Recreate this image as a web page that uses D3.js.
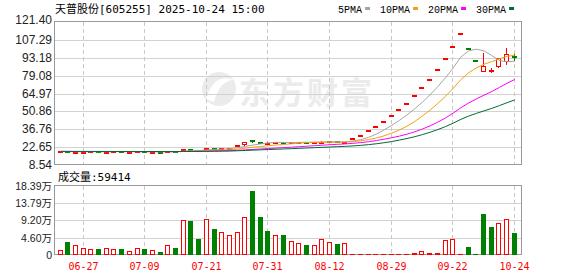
<!DOCTYPE html>
<html>
<head>
<meta charset="utf-8">
<script src="https://cdn.jsdelivr.net/npm/d3@7"></script>
<style>
  body { margin: 0; background: #fff; }
  svg { display: block; }
</style>
</head>
<body>
<div id="chart"></div>
<script>
// 天普股份 daily K line, 60 bars, prices in yuan, volume in 万手
const title = '天普股份[605255] 2025-10-24 15:00';

const opens = [19.10, 19.30, 18.85, 18.95, 19.05, 19.25, 19.00, 19.10, 19.25, 19.00,
  19.05, 19.20, 18.95, 19.05, 18.90, 19.20, 19.30, 20.90, 20.40, 20.40,
  21.80, 21.20, 21.60, 22.60, 24.00, 27.90, 26.50, 25.60, 25.90, 26.50,
  26.00, 26.40, 26.90, 26.40, 26.60, 26.90, 27.10, 26.70, 29.59, 32.55,
  35.81, 39.39, 43.33, 47.66, 52.43, 57.67, 63.44, 69.30, 76.76, 84.44,
  92.50, 101.80, 112.39, 101.15, 91.04, 82.20, 83.50, 85.60, 89.60, 94.50];
const highs = [19.40, 19.35, 19.10, 19.20, 19.30, 19.30, 19.20, 19.30, 19.30, 19.15,
  19.25, 19.25, 19.10, 19.10, 19.25, 19.25, 20.90, 21.20, 20.70, 21.90,
  22.10, 21.80, 22.30, 24.31, 26.74, 28.40, 26.90, 26.40, 26.60, 26.70,
  26.70, 26.90, 27.00, 26.80, 27.10, 27.30, 27.20, 27.00, 29.59, 32.55,
  35.81, 39.39, 43.33, 47.66, 52.43, 57.67, 63.44, 69.78, 76.76, 84.44,
  92.88, 102.17, 112.39, 101.15, 91.04, 96.70, 85.00, 92.90, 100.60, 95.90];
const lows = [19.00, 18.85, 18.80, 18.90, 19.00, 19.00, 18.95, 19.05, 19.00, 18.95,
  19.00, 18.95, 18.90, 18.90, 18.85, 18.95, 19.20, 20.20, 20.00, 20.30,
  21.20, 21.00, 21.50, 22.40, 23.80, 25.90, 26.00, 25.40, 25.70, 25.90,
  25.90, 26.20, 26.40, 26.30, 26.50, 26.80, 26.70, 26.50, 29.59, 32.55,
  35.81, 39.39, 43.33, 47.66, 52.43, 57.67, 63.44, 68.50, 76.76, 84.44,
  91.80, 101.00, 112.39, 101.15, 91.04, 82.00, 81.30, 85.40, 87.30, 90.90];
const closes = [19.30, 18.90, 19.00, 19.10, 19.25, 19.05, 19.15, 19.25, 19.05, 19.10,
  19.20, 19.00, 19.05, 18.95, 19.20, 19.00, 20.90, 20.40, 20.20, 21.70,
  21.40, 21.60, 22.10, 24.31, 26.74, 26.60, 26.30, 26.00, 26.40, 26.10,
  26.50, 26.80, 26.50, 26.70, 27.00, 27.10, 26.80, 26.90, 29.59, 32.55,
  35.81, 39.39, 43.33, 47.66, 52.43, 57.67, 63.44, 69.78, 76.76, 84.44,
  92.88, 102.17, 112.39, 101.15, 91.04, 86.40, 83.90, 92.70, 95.90, 93.20];
const volumes = [1.33, 3.46, 2.58, 1.78, 1.50, 1.60, 1.78, 1.50, 1.60, 0.98,
  1.78, 1.60, 1.24, 0.80, 2.58, 1.87, 9.24, 9.06, 4.26, 9.50,
  6.93, 6.04, 5.24, 6.04, 10.04, 17.05, 10.12, 6.39, 5.24, 5.33,
  3.70, 3.15, 2.66, 2.62, 4.17, 3.40, 2.93, 3.15, 0.20, 0.20,
  0.20, 0.20, 0.20, 0.20, 0.20, 0.20, 0.53, 1.07, 0.53, 0.53,
  4.00, 4.26, 0.18, 2.13, 0.27, 10.93, 7.55, 8.53, 9.60, 5.94];

// closes before the first bar, only needed for the moving averages
const priorCloses = [19.6, 19.5, 19.7, 19.4, 19.6, 19.5, 19.3, 19.5, 19.4, 19.6,
  19.3, 19.4, 19.2, 19.5, 19.3, 19.4, 19.1, 19.3, 19.2, 19.4,
  19.1, 19.3, 19.0, 19.2, 19.1, 19.3, 19.0, 19.1, 19.2];

const tickDates = ['06-27', '07-09', '07-21', '07-31', '08-12', '08-29', '09-22', '10-24'];
const tickBars = [3, 11, 19, 27, 35, 43, 51, 59];
const priceTicks = [8.54, 22.65, 36.76, 50.86, 64.97, 79.08, 93.18, 107.29, 121.40];
const volTicks = [0, 4.60, 9.20, 13.79, 18.39];
const maPeriods = [5, 10, 20, 30];
const maColors = ['#a6a6a6', '#f2a20c', '#ff00ff', '#006b32'];
const lastVolume = '59414';

// layout
const W = 578, H = 276;
const left = 55, right = 522;
const pTop = 22, pBottom = 165;
const vTop = 186, vBottom = 255;
const RED = '#ff0000', GREEN = '#008000';

const svg = d3.select('#chart').append('svg')
  .attr('width', W).attr('height', H)
  .style('background', '#fff');

const x = d3.scaleLinear().domain([-0.65, 60]).range([left, right]);
const y = d3.scaleLinear().domain([8.54, 121.40]).range([pBottom, pTop]);
const yv = d3.scaleLinear().domain([0, 18.39]).range([vBottom, vTop]);
const cx = i => Math.floor(x(i));

const prevClose = i => i === 0 ? priorCloses[priorCloses.length - 1] : closes[i - 1];

// watermark
const wm = svg.append('g').attr('fill', '#ebebeb');
wm.append('circle').attr('cx', 219).attr('cy', 89).attr('r', 17);
wm.append('path').attr('fill', '#fff')
  .attr('d', 'M206,99 Q214,72 234,80 Q220,80 214,102 Z');
wm.append('text')
  .attr('x', 239).attr('y', 104)
  .attr('font-family', '"Noto Sans CJK SC", sans-serif')
  .attr('font-weight', 'bold')
  .attr('font-size', 31)
  .attr('letter-spacing', 3)
  .text('东方财富');

// grid
const grid = svg.append('g').attr('shape-rendering', 'crispEdges');
grid.selectAll('.hp').data(priceTicks.slice(1, -1)).enter().append('line')
  .attr('x1', left).attr('x2', right)
  .attr('y1', d => Math.round(y(d)) + 0.5).attr('y2', d => Math.round(y(d)) + 0.5)
  .attr('stroke', '#d2d2d2');
grid.selectAll('.hv').data(volTicks.slice(1, -1)).enter().append('line')
  .attr('x1', left).attr('x2', right)
  .attr('y1', d => Math.round(yv(d)) + 0.5).attr('y2', d => Math.round(yv(d)) + 0.5)
  .attr('stroke', '#d2d2d2');
[[pTop, pBottom], [vTop, vBottom]].forEach(([t, b]) => {
  grid.selectAll(null).data(tickBars).enter().append('line')
    .attr('x1', d => cx(d) + 0.5).attr('x2', d => cx(d) + 0.5)
    .attr('y1', t).attr('y2', b)
    .attr('stroke', '#c8c8c8')
    .attr('stroke-dasharray', '4,3');
});

// panel borders
[[pTop, pBottom], [vTop, vBottom]].forEach(([t, b]) => {
  svg.append('rect')
    .attr('x', left - 0.5).attr('y', t - 0.5)
    .attr('width', right - left).attr('height', b - t)
    .attr('fill', 'none').attr('stroke', '#999')
    .attr('shape-rendering', 'crispEdges');
});

// candles
const candles = svg.append('g').attr('shape-rendering', 'crispEdges');
closes.forEach((c, i) => {
  const o = opens[i], h = highs[i], l = lows[i];
  const px = cx(i);
  let color;
  if (c > o) color = RED;
  else if (c < o) color = GREEN;
  else color = c >= prevClose(i) ? RED : GREEN;
  const yTop = Math.round(y(Math.max(o, c)));
  const yBot = Math.round(y(Math.min(o, c)));
  const g = candles.append('g');
  if (c > o) {
    if (y(h) < yTop) g.append('line').attr('x1', px + 0.5).attr('x2', px + 0.5)
      .attr('y1', y(h)).attr('y2', yTop).attr('stroke', color);
    if (y(l) > yBot) g.append('line').attr('x1', px + 0.5).attr('x2', px + 0.5)
      .attr('y1', yBot).attr('y2', y(l)).attr('stroke', color);
    g.append('rect')
      .attr('x', px - 1.5).attr('y', yTop + 0.5)
      .attr('width', 4).attr('height', Math.max(yBot - yTop - 1, 0.5))
      .attr('fill', '#fff').attr('stroke', color);
  } else {
    g.append('line').attr('x1', px + 0.5).attr('x2', px + 0.5)
      .attr('y1', y(h)).attr('y2', y(l)).attr('stroke', color);
    g.append('rect')
      .attr('x', px - 2).attr('y', yTop)
      .attr('width', 5).attr('height', Math.max(yBot - yTop, 2))
      .attr('fill', color);
  }
});

// moving averages
const allCloses = priorCloses.concat(closes);
const line = d3.line().x(d => x(d.i) + 0.5).y(d => y(d.v));
maPeriods.forEach((n, k) => {
  const pts = closes.map((c, i) => {
    const end = i + priorCloses.length + 1;
    return { i, v: d3.mean(allCloses.slice(end - n, end)) };
  });
  svg.append('path').datum(pts)
    .attr('d', line)
    .attr('fill', 'none')
    .attr('stroke', maColors[k])
    .attr('stroke-width', 1);
});

// volume bars
const vol = svg.append('g').attr('shape-rendering', 'crispEdges');
volumes.forEach((v, i) => {
  const px = cx(i);
  const up = closes[i] >= prevClose(i);
  const hollow = up && closes[i] > opens[i];
  const color = up ? RED : GREEN;
  const top = Math.round(yv(v));
  if (hollow) {
    vol.append('rect')
      .attr('x', px - 1.5).attr('y', top + 0.5)
      .attr('width', 4).attr('height', Math.max(vBottom - top - 1, 1))
      .attr('fill', '#fff').attr('stroke', color);
  } else {
    vol.append('rect')
      .attr('x', px - 2).attr('y', Math.min(top, vBottom - 1))
      .attr('width', 5).attr('height', Math.max(vBottom - top, 1))
      .attr('fill', color);
  }
});

// axis labels
svg.append('g').selectAll('text').data(priceTicks).enter().append('text')
  .attr('x', 52)
  .attr('y', (d, i) => y(d) + 4 - (i === priceTicks.length - 1 ? 2 : 0))
  .attr('text-anchor', 'end')
  .attr('font-family', '"Liberation Sans", Arial, sans-serif')
  .attr('font-size', 12)
  .attr('fill', '#222')
  .text(d => d.toFixed(2));

svg.append('g').selectAll('text').data(volTicks).enter().append('text')
  .attr('x', 52)
  .attr('y', d => yv(d) + 4)
  .attr('text-anchor', 'end')
  .attr('font-family', '"Liberation Sans", "Noto Sans CJK SC", sans-serif')
  .attr('font-size', 10.5)
  .attr('fill', '#222')
  .text(d => d === 0 ? '0' : d.toFixed(2) + '万');

svg.append('g').selectAll('text').data(tickBars).enter().append('text')
  .attr('x', d => cx(d) + 0.5)
  .attr('y', 270)
  .attr('text-anchor', 'middle')
  .attr('font-family', '"DejaVu Sans Mono", monospace')
  .attr('font-size', 10)
  .attr('fill', RED)
  .text((d, i) => tickDates[i]);

// title
svg.append('text')
  .attr('x', 55).attr('y', 13)
  .attr('font-family', '"DejaVu Sans Mono", "Noto Sans CJK SC", monospace')
  .attr('font-size', 11)
  .attr('fill', '#000')
  .text(title);

// MA legend
let lx = 338;
maPeriods.forEach((n, k) => {
  const t = svg.append('text')
    .attr('x', lx).attr('y', 13)
    .attr('font-family', '"Liberation Mono", monospace')
    .attr('font-size', 10)
    .attr('fill', '#000')
    .text(n + 'PMA');
  lx += t.node().getComputedTextLength() + 3;
  svg.append('rect')
    .attr('x', lx).attr('y', 7)
    .attr('width', 5).attr('height', 3)
    .attr('fill', maColors[k]);
  lx += 5 + 10;
});

// volume caption
svg.append('text')
  .attr('x', 58).attr('y', 181)
  .attr('font-family', '"DejaVu Sans Mono", "Noto Sans CJK SC", monospace')
  .attr('font-size', 11)
  .attr('fill', '#000')
  .text('成交量:' + lastVolume);
</script>
</body>
</html>
